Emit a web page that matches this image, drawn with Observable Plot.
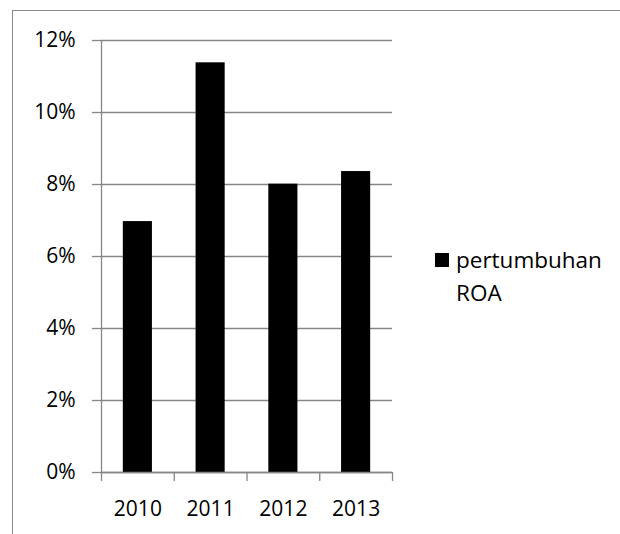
<!DOCTYPE html>
<html>
<head>
<meta charset="utf-8">
<script src="https://cdn.jsdelivr.net/npm/d3@7"></script>
<script src="https://cdn.jsdelivr.net/npm/@observablehq/plot@0.6"></script>
<style>
  html, body { margin: 0; padding: 0; background: #fff; }
  #wrap { position: relative; width: 620px; height: 534px; overflow: hidden; font-family: "Open Sans", sans-serif; }
  #frame { position: absolute; left: 12px; top: 10px; right: -5px; bottom: -5px; border-top: 1.5px solid #8a8a8a; border-left: 1.5px solid #8a8a8a; }
  #legend { position: absolute; left: 435px; top: 243px; font-size: 22.5px; color: #000; line-height: 33px; }
  #legend .sw { position: absolute; left: 0; top: 10px; width: 14px; height: 14px; background: #000; }
  #legend .lbl { position: absolute; left: 21px; top: 0; white-space: nowrap; }
  #chart { position: absolute; left: 0; top: 0; }
</style>
</head>
<body>
<div id="wrap">
  <div id="frame"></div>
  <div id="chart"></div>
  <div id="legend"><div class="sw"></div><div class="lbl">pertumbuhan<br>ROA</div></div>
</div>
<script>
const years = [2010, 2011, 2012, 2013];
const roa = [0.0697, 0.1138, 0.0801, 0.0836];
const yTicks = [0, 0.02, 0.04, 0.06, 0.08, 0.10, 0.12];
const seriesName = "pertumbuhan ROA";

const data = years.map((y, i) => ({year: y, roa: roa[i]}));
const boundaries = [years[0] - 0.5, ...years.map(y => y + 0.5)];
const gray = "#868686";

const chart = Plot.plot({
  width: 620,
  height: 534,
  marginLeft: 101,
  marginRight: 228,
  marginTop: 40,
  marginBottom: 62,
  style: {fontFamily: "'Open Sans', sans-serif", fontSize: "21px", background: "transparent", color: "#000"},
  x: {domain: [boundaries[0], boundaries[boundaries.length - 1]]},
  y: {domain: [0, 0.12]},
  marks: [
    Plot.gridY(yTicks, {stroke: gray, strokeOpacity: 1, strokeWidth: 1.3}),
    Plot.rectY(data, {x1: d => d.year - 0.2, x2: d => d.year + 0.2, y: "roa", fill: "#000"}),
    Plot.ruleX([boundaries[0]], {stroke: gray, strokeWidth: 1.3}),
    Plot.ruleY([0], {stroke: gray, strokeWidth: 1.3}),
    Plot.axisY({ticks: yTicks, tickFormat: d3.format(".0%"), tickSize: 9, tickPadding: 17, stroke: gray, strokeWidth: 1.3, fill: "#000", fontSize: 21, label: null}),
    Plot.axisX({ticks: boundaries, tickFormat: () => "", tickSize: 9, stroke: gray, strokeWidth: 1.3, label: null}),
    Plot.axisX({ticks: years, tickFormat: d => String(d), tickSize: 0, tickPadding: 29, fill: "#000", fontSize: 21, label: null})
  ]
});
document.getElementById("chart").appendChild(chart);
</script>
</body>
</html>
